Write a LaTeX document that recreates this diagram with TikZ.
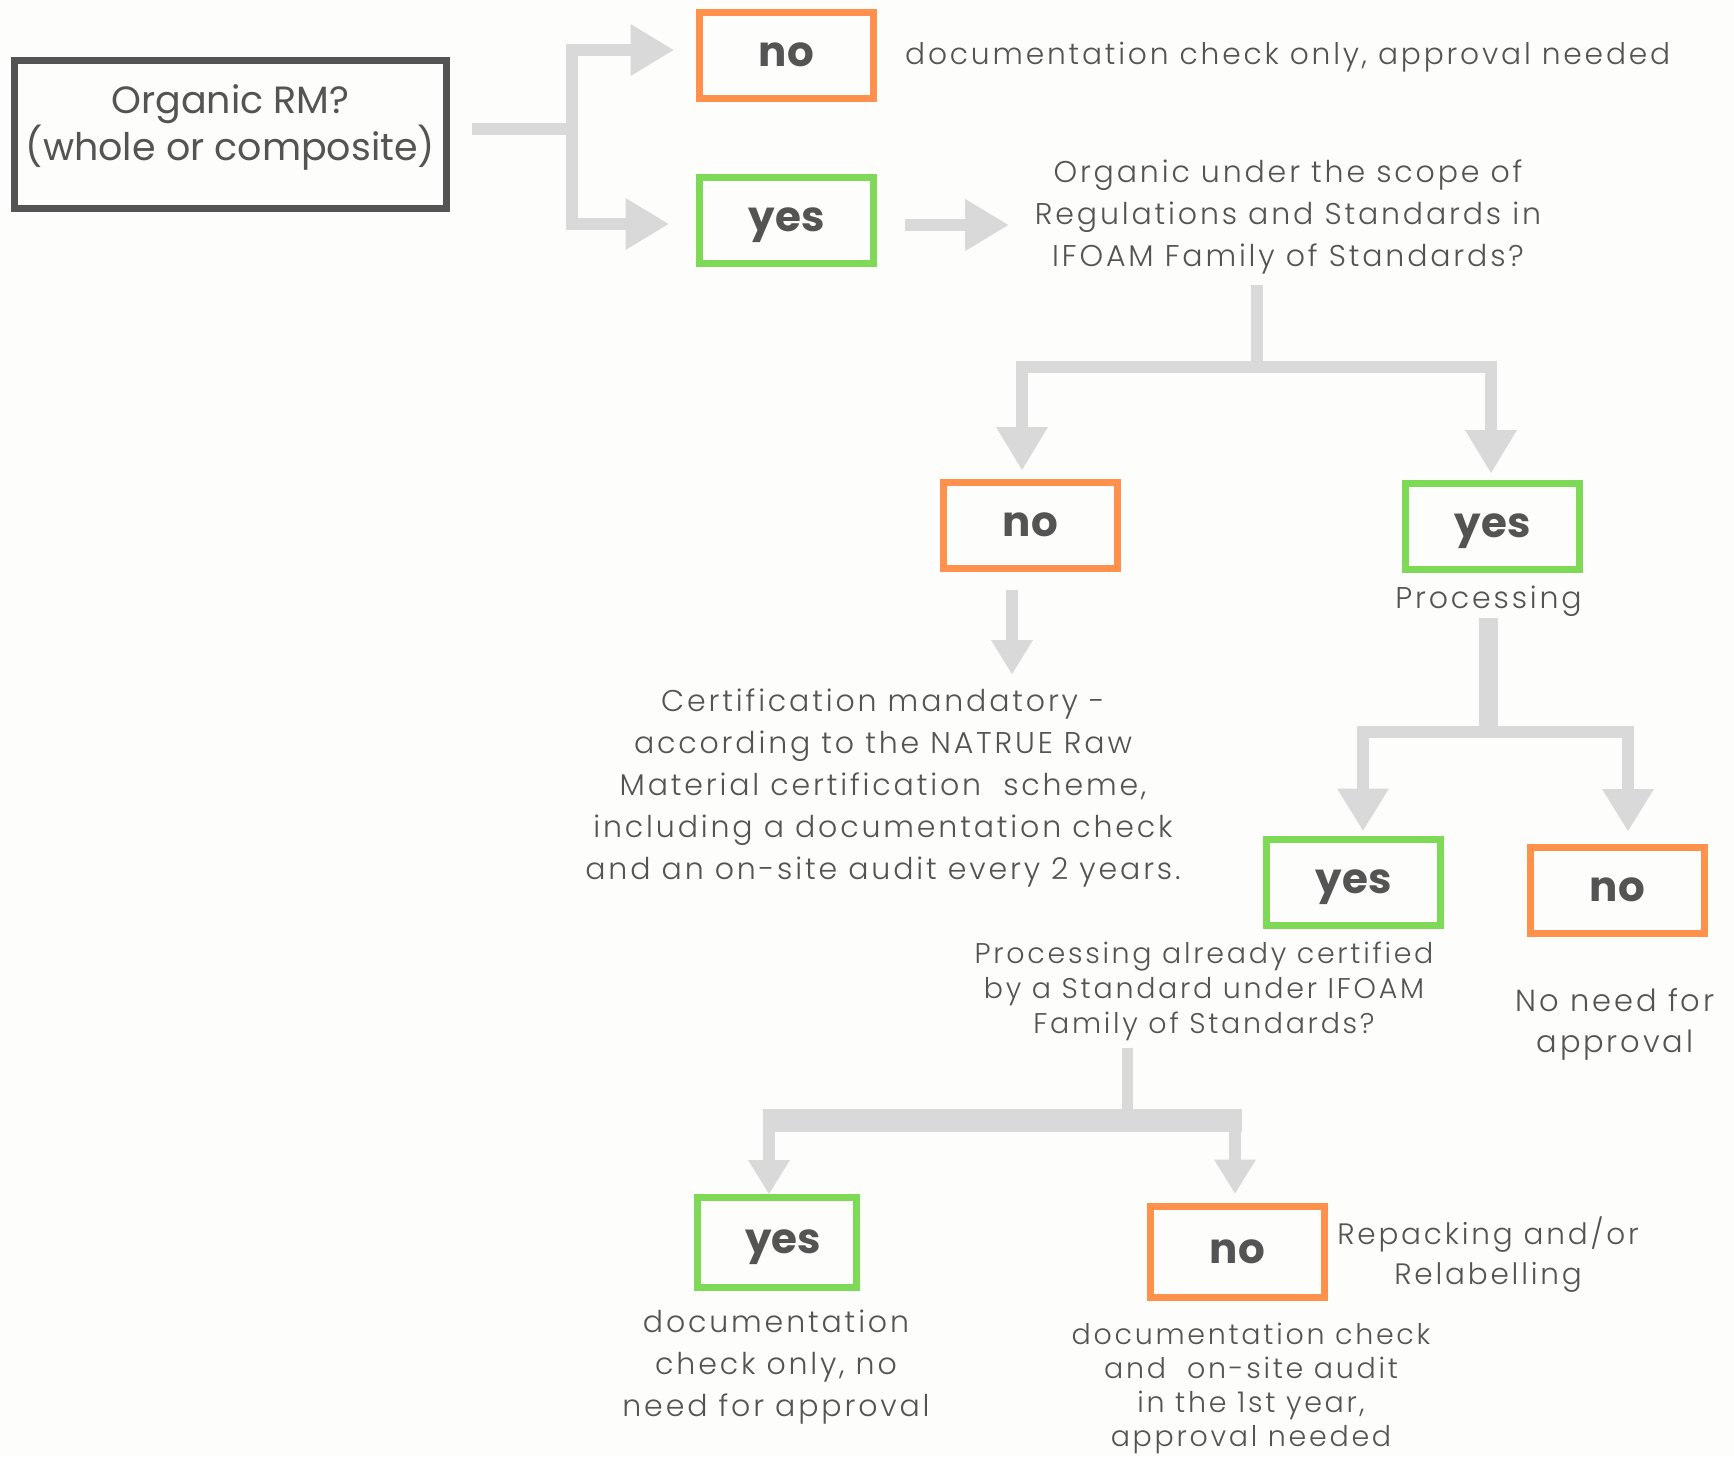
\documentclass[tikz,border=0pt]{standalone}
\usepackage{fontspec}
\setmainfont{Poppins}
\newfontfamily\bodyf[LetterSpace=9.5]{Poppins Light}
\usetikzlibrary{arrows.meta}
\definecolor{bg}{RGB}{253,253,251}
\definecolor{ink}{RGB}{84,84,84}
\definecolor{cOrange}{RGB}{255,145,77}
\definecolor{cGreen}{RGB}{126,217,87}
\definecolor{cGray}{RGB}{217,217,217}
\begin{document}
\begin{tikzpicture}[x=1pt,y=-1pt,
  box/.style={draw, line width=7pt, minimum width=174pt, minimum height=86pt, inner sep=0pt,
    font=\bfseries\fontsize{42}{42}\selectfont, text=ink, text height=22pt, text depth=0pt},
  nobox/.style={box, draw=cOrange},
  yesbox/.style={box, draw=cGreen},
  txt/.style={inner sep=0pt, text=ink, align=center, font=\bodyf\fontsize{30}{42}\selectfont},
  smalltxt/.style={txt, font=\bodyf\fontsize{28.5}{35}\selectfont},
  conn/.style={draw=cGray, line width=12pt},
  arr/.style={conn, -{Triangle[width=52pt,length=43pt,line width=0pt]}},
  arrs/.style={conn, -{Triangle[width=42pt,length=34pt,line width=0pt]}},
]
\fill[bg] (0,0) rectangle (1734,1456);
\useasboundingbox (0,0) rectangle (1734,1456);

% boxes
\node[draw=ink, line width=7pt, minimum width=432pt, minimum height=148pt, inner sep=0pt,
  text=ink, align=center, font=\fontsize{38}{44}\selectfont] (orgq) at (230.5,134.5)
  {Organic RM?\\(whole or composite)\rule[-24pt]{0pt}{0pt}};
\node[nobox]  (noA)  at (786.5,55.5) {no};
\node[yesbox] (yesA) at (786.5,220) {yes};
\node[nobox]  (noB)  at (1030.5,525) {no};
\node[yesbox] (yesB) at (1492.5,526) {yes};
\node[yesbox] (yesC) at (1353.5,882.5) {yes};
\node[nobox]  (noC)  at (1617.5,890) {no};
\node[yesbox, minimum width=159pt, minimum height=90pt] (yesD) at (777,1242.5) {\hspace*{12pt}yes};
\node[nobox, minimum height=91pt] (noD) at (1237.5,1252) {no};

% texts
\node[txt, anchor=base west, font=\bodyf\fontsize{29.7}{42}\selectfont] (note1) at (905,64) {documentation check only, approval needed};
\node[txt] (q1) at (1288,216.5) {Organic under the scope of\\Regulations and Standards in\\IFOAM Family of Standards?};
\node[txt, anchor=base] (proc) at (1488.5,608) {Processing};
\node[txt] (cert) at (883,787.5) {Certification mandatory -\\according to the NATRUE Raw\\Material certification\ \ scheme,\\including a documentation check\\and an on-site audit every 2 years.};
\node[smalltxt] (q3) at (1204,991.5) {Processing already certified\\by a Standard under IFOAM\\Family of Standards?};
\node[txt, font=\bodyf\fontsize{30.5}{41}\selectfont] (noneed) at (1615,1024) {No need for\\approval};
\node[txt, font=\bodyf\fontsize{29.5}{40}\selectfont] (repack) at (1488,1255) {Repacking and/or\\Relabelling};
\node[txt] (docD) at (776,1367) {documentation\\check only, no\\need for approval};
\node[txt, font=\bodyf\fontsize{28.5}{34}\selectfont] (docE) at (1251,1388.5) {documentation check\\and\ \ on-site audit\\in the 1st year,\\approval needed};

% connectors: top
\coordinate (j1) at (572,129);
\draw[conn, shorten <=21.5pt] (orgq.east |- j1) -- (j1);
\draw[arr, shorten >=22.5pt] (j1) |- ([yshift=5.5pt]noA.west);
\draw[arr, shorten >=27.5pt] (j1) |- ([yshift=-4pt]yesA.west);
\draw[arr, shorten <=27.5pt, shorten >=26.5pt] ([yshift=-5pt]yesA.east) -- ([yshift=-5pt]yesA.east -| q1.west);

% middle
\coordinate (j2) at (1257,367);
\coordinate (b2l) at (1022,367);
\coordinate (b2r) at (1491,367);
\draw[conn, shorten <=11.5pt] (q1.south -| j2) -- (j2);
\draw[arr, shorten >=8.5pt] (j2) -| (b2l |- noB.north);
\draw[arr, shorten >=6.5pt] (j2) -| (b2r |- yesB.north);
\draw[arrs, shorten <=18.5pt, shorten >=14pt] ([xshift=-18.5pt]noB.south) -- ([xshift=-18.5pt]noB.south |- cert.north);

% processing
\coordinate (j3) at (1488.5,732);
\coordinate (b3l) at (1363,732);
\coordinate (b3r) at (1628,732);
\draw[conn, line width=19pt, shorten <=1.5pt] (proc.south) -- (j3);
\draw[arr, -{Triangle[width=52pt,length=42pt,line width=0pt]}, shorten >=5.5pt] (j3) -| (b3l |- yesC.north);
\draw[arr, -{Triangle[width=52pt,length=42pt,line width=0pt]}, shorten >=12.5pt] (j3) -| (b3r |- noC.north);

% bottom
\coordinate (j4) at (1127,1120);
\coordinate (b4l) at (769,1120);
\coordinate (b4r) at (1235,1120);
\draw[conn, line width=11pt, shorten <=6.5pt] (q3.south -| j4) -- (j4);
\draw[conn, line width=23pt] ([xshift=-6.5pt]b4l) -- ([xshift=6.5pt]b4r);
\draw[arrs] (b4l) -- (b4l |- yesD.north);
\draw[arrs, shorten >=9.5pt] (b4r) -- (b4r |- noD.north);
\end{tikzpicture}
\end{document}
